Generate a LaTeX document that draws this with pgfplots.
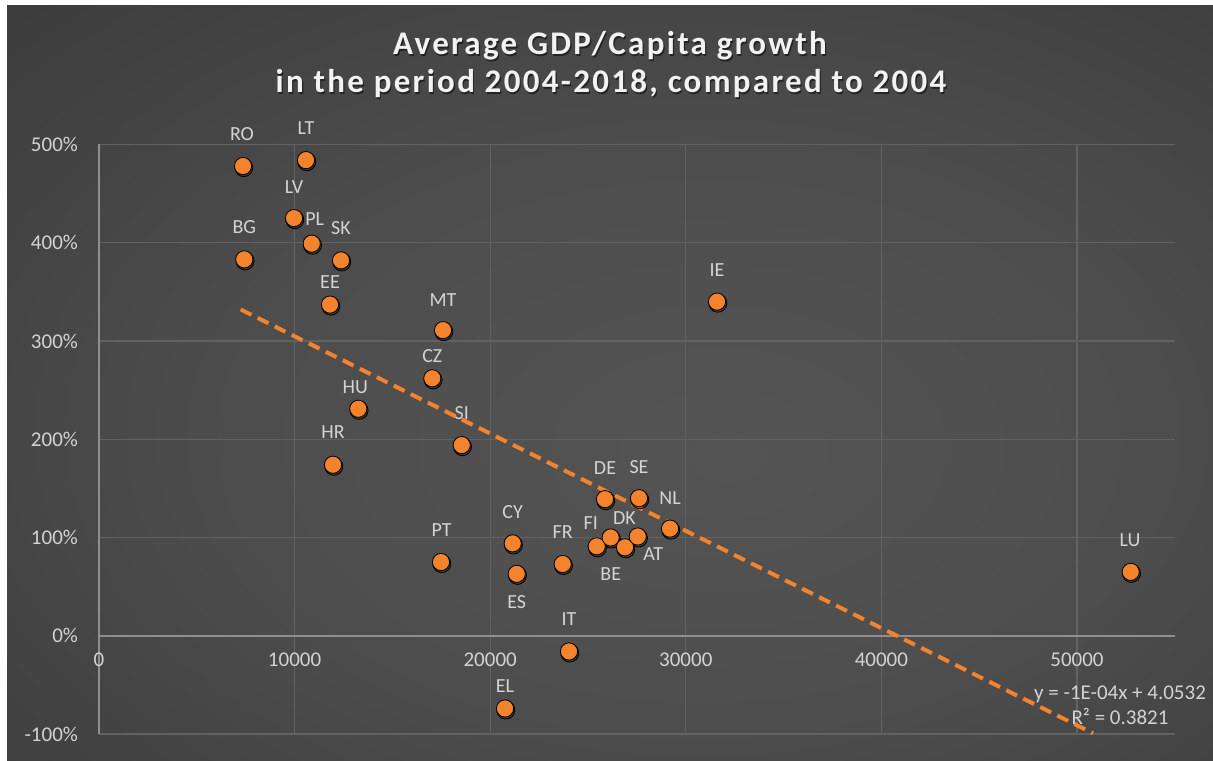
\documentclass[border=0pt]{standalone}
\usepackage{pgfplots}
\pgfplotsset{compat=1.18}
\usepackage{pgfplotstable}
\usepackage{fontspec}
\setmainfont{Carlito}
\definecolor{orng}{HTML}{F3832C}
\definecolor{gridc}{HTML}{626262}
\definecolor{axisc}{HTML}{8F8F8F}
\definecolor{txt}{HTML}{D3D3D3}
\definecolor{ttl}{HTML}{F2F2F2}
\pgfdeclareradialshading{bgshade}{\pgfpoint{5bp}{-5bp}}{rgb(0bp)=(0.33,0.33,0.33); rgb(20bp)=(0.30,0.30,0.30); rgb(50bp)=(0.20,0.20,0.20); rgb(75bp)=(0.16,0.16,0.16)}

\pgfplotstableread{
x y lbl dx dy
7362 4.78 RO -0.5 16
10583 4.84 LT 0 16
9969 4.25 LV 0 15.5
10874 3.99 PL 1.5 12.5
7428 3.83 BG 0 16
12372 3.82 SK 0 16
11810 3.37 EE 0 11
17587 3.11 MT 0 15
17040 2.62 CZ 0 11.3
13257 2.31 HU -1.5 11
11963 1.74 HR 0 16.5
18543 1.94 SI 0 16
31595 3.40 IE 0 16
25869 1.39 DE 0 15.5
27607 1.40 SE 0 15.5
29192 1.09 NL 0 15.5
25445 0.91 FI -3 11.5
26160 1.00 BE 0 -18.5
26892 0.90 DK -0.3 14.7
27541 1.01 AT 7.8 -8.8
21150 0.94 CY 0 15.8
21355 0.63 ES 0 -14
23706 0.73 FR 0 16
17485 0.75 PT 0.3 16
24029 -0.16 IT 0 16
20757 -0.74 EL 0 11
52745 0.65 LU -0.3 15.8
}\pts

\begin{document}
\begin{tikzpicture}
\useasboundingbox (0,0) rectangle (606.5pt,380pt);
\fill[white] (0,0) rectangle (606.5pt,380pt);
\shade[shading=bgshade] (3.5pt,0) rectangle (606.5pt,377pt);
\begin{axis}[
  scale only axis, width=537.9pt, height=294.8pt,
  at={(49.5pt,13pt)}, anchor=south west,
  xmin=0, xmax=55000, ymin=-1, ymax=5,
  axis x line*=middle, axis y line*=left,
  hide obscured x ticks=false, hide obscured y ticks=false,
  xtick={0,10000,20000,30000,40000,50000},
  ytick={-1,0,1,2,3,4,5},
  yticklabels={-100\%,0\%,100\%,200\%,300\%,400\%,500\%},
  grid=major, major grid style={gridc, line width=0.6pt},
  axis line style={axisc, line width=0.9pt},
  major tick length=0pt,
  tick label style={font=\fontsize{10.5}{12}\selectfont, text=txt},
  xticklabel style={yshift=-5pt},
  yticklabel style={xshift=-7pt},
  /pgf/number format/1000 sep={},
  /pgf/number format/assume math mode=true,
  scaled x ticks=false,
  clip=false,
]
\addplot[only marks, mark=*, mark size=4.5pt, mark options={draw=none, fill=black, fill opacity=0.22, xshift=0.4pt, yshift=-0.8pt}] table[x=x,y=y] {\pts};
\addplot[only marks, mark=*, mark size=4.3pt, mark options={draw=none, fill=orng},
  point meta=explicit symbolic,
  nodes near coords,
  visualization depends on={\thisrow{dx}\as\dx},
  visualization depends on={\thisrow{dy}\as\dy},
  every node near coord/.append style={anchor=center, xshift=\dx pt, yshift=\dy pt, text=txt, font=\fontsize{10}{12}\selectfont}
] table[x=x,y=y,meta=lbl] {\pts};
\addplot[orng, line width=2pt, dash pattern=on 6pt off 3.5pt] coordinates {(7244,3.32) (50818,-0.993)};
\end{axis}
\begin{scope}[font=\fontsize{16.5}{20}\bfseries\addfontfeature{LetterSpace=7}]
\node[anchor=base, text=black, opacity=0.5] at (305.6pt,351.9pt) {Average GDP/Capita growth};
\node[anchor=base, text=ttl] at (305pt,352.5pt) {Average GDP/Capita growth};
\node[anchor=base, text=black, opacity=0.5] at (306.1pt,332.9pt) {in the period 2004-2018, compared to 2004};
\node[anchor=base, text=ttl] at (305.5pt,333.5pt) {in the period 2004-2018, compared to 2004};
\end{scope}
\node[anchor=base, text=txt, font=\fontsize{10.5}{12}\selectfont] at (560pt,30.5pt) {y = -1E-04x + 4.0532};
\node[anchor=base, text=txt, font=\fontsize{10.5}{12}\selectfont] at (560pt,18pt) {R² = 0.3821};
\end{tikzpicture}
\end{document}
